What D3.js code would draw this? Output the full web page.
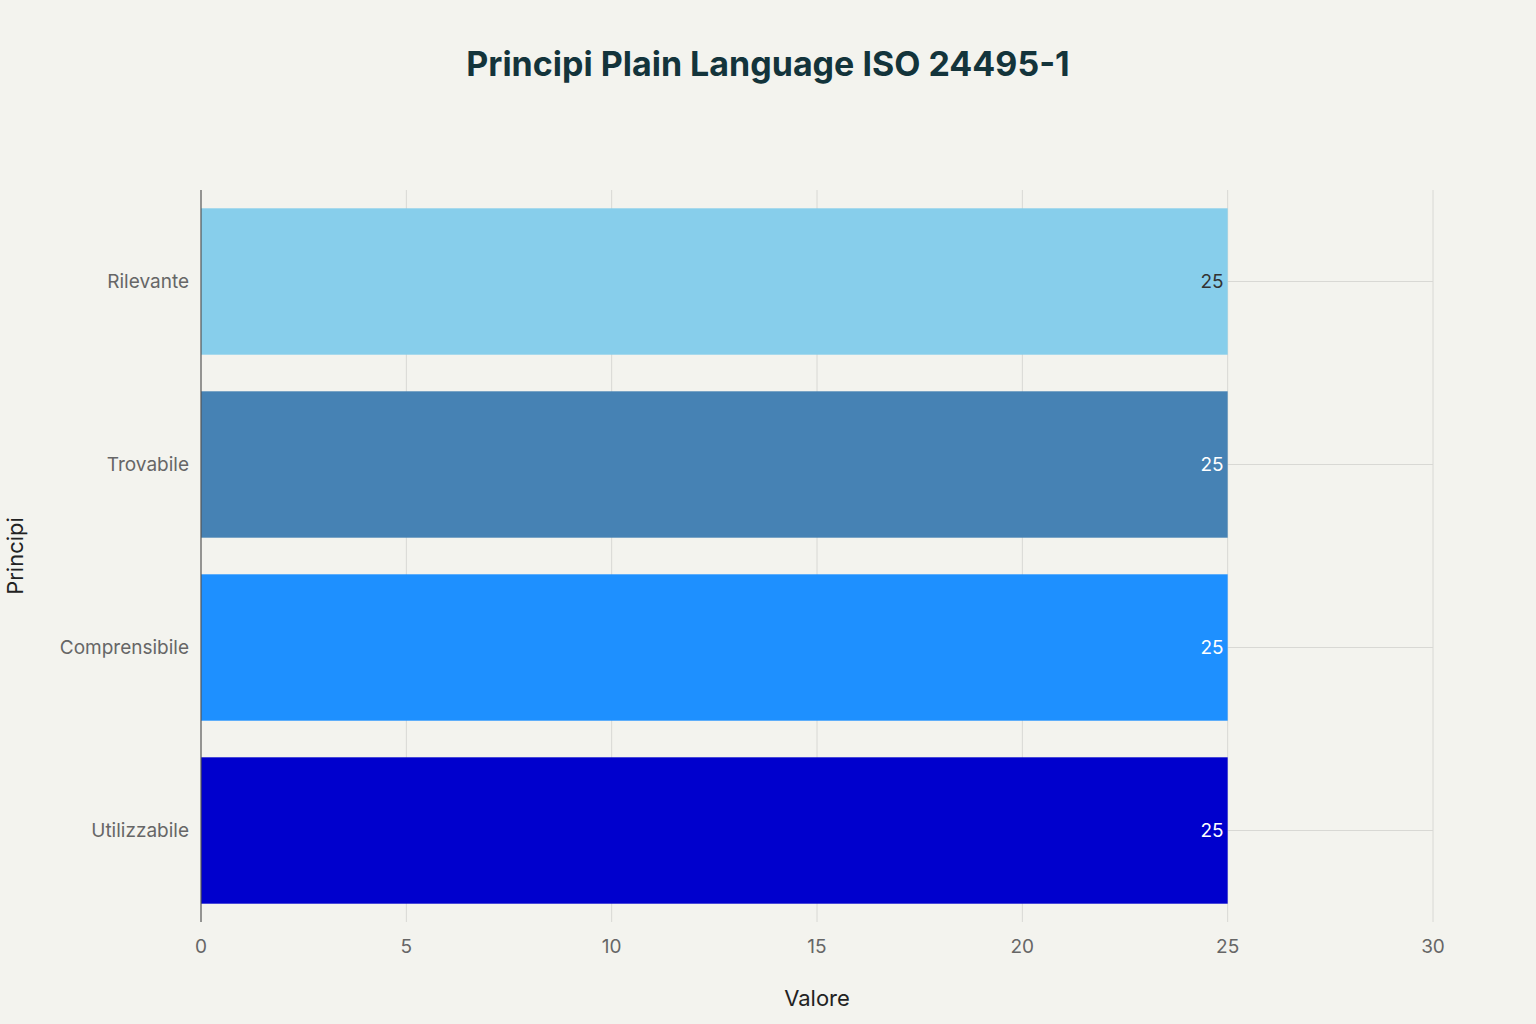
<!DOCTYPE html>
<html>
<head>
<meta charset="utf-8">
<script src="https://cdn.jsdelivr.net/npm/d3@7"></script>
<style>
    body { margin: 0; background: #f3f3ee; }
    text { font-family: Inter, "Noto Sans", sans-serif; }
</style>
</head>
<body>
<svg id="chart" width="1536" height="1024"></svg>
<script>
    // data
    var categories = ["Rilevante", "Trovabile", "Comprensibile", "Utilizzabile"];
    var values = [25, 25, 25, 25];
    var colors = ["#87CEEB", "#4682B4", "#1E90FF", "#0000CD"];
    var labelColors = ["#333333", "#ffffff", "#ffffff", "#ffffff"];
    var xTicks = [0, 5, 10, 15, 20, 25, 30];

    var svg = d3.select("#chart");
    svg.append("rect").attr("width", 1536).attr("height", 1024).attr("fill", "#f3f3ee");

    var plotLeft = 201, plotRight = 1433, plotTop = 190, plotBottom = 922;
    var x = d3.scaleLinear().domain([0, 30]).range([plotLeft, plotRight]);
    var y = d3.scaleBand().domain(categories).range([plotTop, plotBottom]).paddingInner(0.2).paddingOuter(0.1);

    // grid
    svg.selectAll(".vg").data(xTicks.slice(1)).enter().append("line")
        .attr("x1", d => x(d)).attr("x2", d => x(d))
        .attr("y1", plotTop).attr("y2", plotBottom)
        .attr("stroke", "#d8d8d4").attr("stroke-width", 1);
    svg.selectAll(".hg").data(categories).enter().append("line")
        .attr("x1", plotLeft).attr("x2", plotRight)
        .attr("y1", d => y(d) + y.bandwidth() / 2).attr("y2", d => y(d) + y.bandwidth() / 2)
        .attr("stroke", "#d8d8d4").attr("stroke-width", 1);

    // bars
    svg.selectAll(".bar").data(categories).enter().append("rect")
        .attr("x", x(0)).attr("y", d => y(d))
        .attr("width", (d, i) => x(values[i]) - x(0))
        .attr("height", y.bandwidth())
        .attr("fill", (d, i) => colors[i]);

    svg.selectAll(".val").data(categories).enter().append("text")
        .attr("x", (d, i) => x(values[i]) - 4)
        .attr("y", d => y(d) + y.bandwidth() / 2)
        .attr("dy", "0.35em")
        .attr("text-anchor", "end")
        .attr("font-size", 19)
        .attr("fill", (d, i) => labelColors[i])
        .text((d, i) => values[i]);

    // axis line
    svg.append("line").attr("x1", plotLeft).attr("x2", plotLeft).attr("y1", plotTop).attr("y2", plotBottom)
        .attr("stroke", "#555").attr("stroke-width", 1.2);

    // tick labels
    svg.selectAll(".xt").data(xTicks).enter().append("text")
        .attr("x", d => x(d)).attr("y", 953)
        .attr("text-anchor", "middle").attr("font-size", 19).attr("fill", "#666")
        .text(d => d);
    svg.selectAll(".yt").data(categories).enter().append("text")
        .attr("x", plotLeft - 12).attr("y", d => y(d) + y.bandwidth() / 2)
        .attr("dy", "0.35em").attr("text-anchor", "end")
        .attr("font-size", 19).attr("fill", "#666")
        .text(d => d);

    // titles
    svg.append("text").attr("x", 768).attr("y", 76).attr("text-anchor", "middle")
        .attr("font-size", 34).attr("font-weight", "bold").attr("fill", "#13343b")
        .text("Principi Plain Language ISO 24495-1");
    svg.append("text").attr("x", 817).attr("y", 1006).attr("text-anchor", "middle")
        .attr("font-size", 22).attr("fill", "#222").text("Valore");
    svg.append("text").attr("transform", "translate(23,556) rotate(-90)")
        .attr("text-anchor", "middle").attr("font-size", 22).attr("fill", "#222").text("Principi");
</script>
</body>
</html>
